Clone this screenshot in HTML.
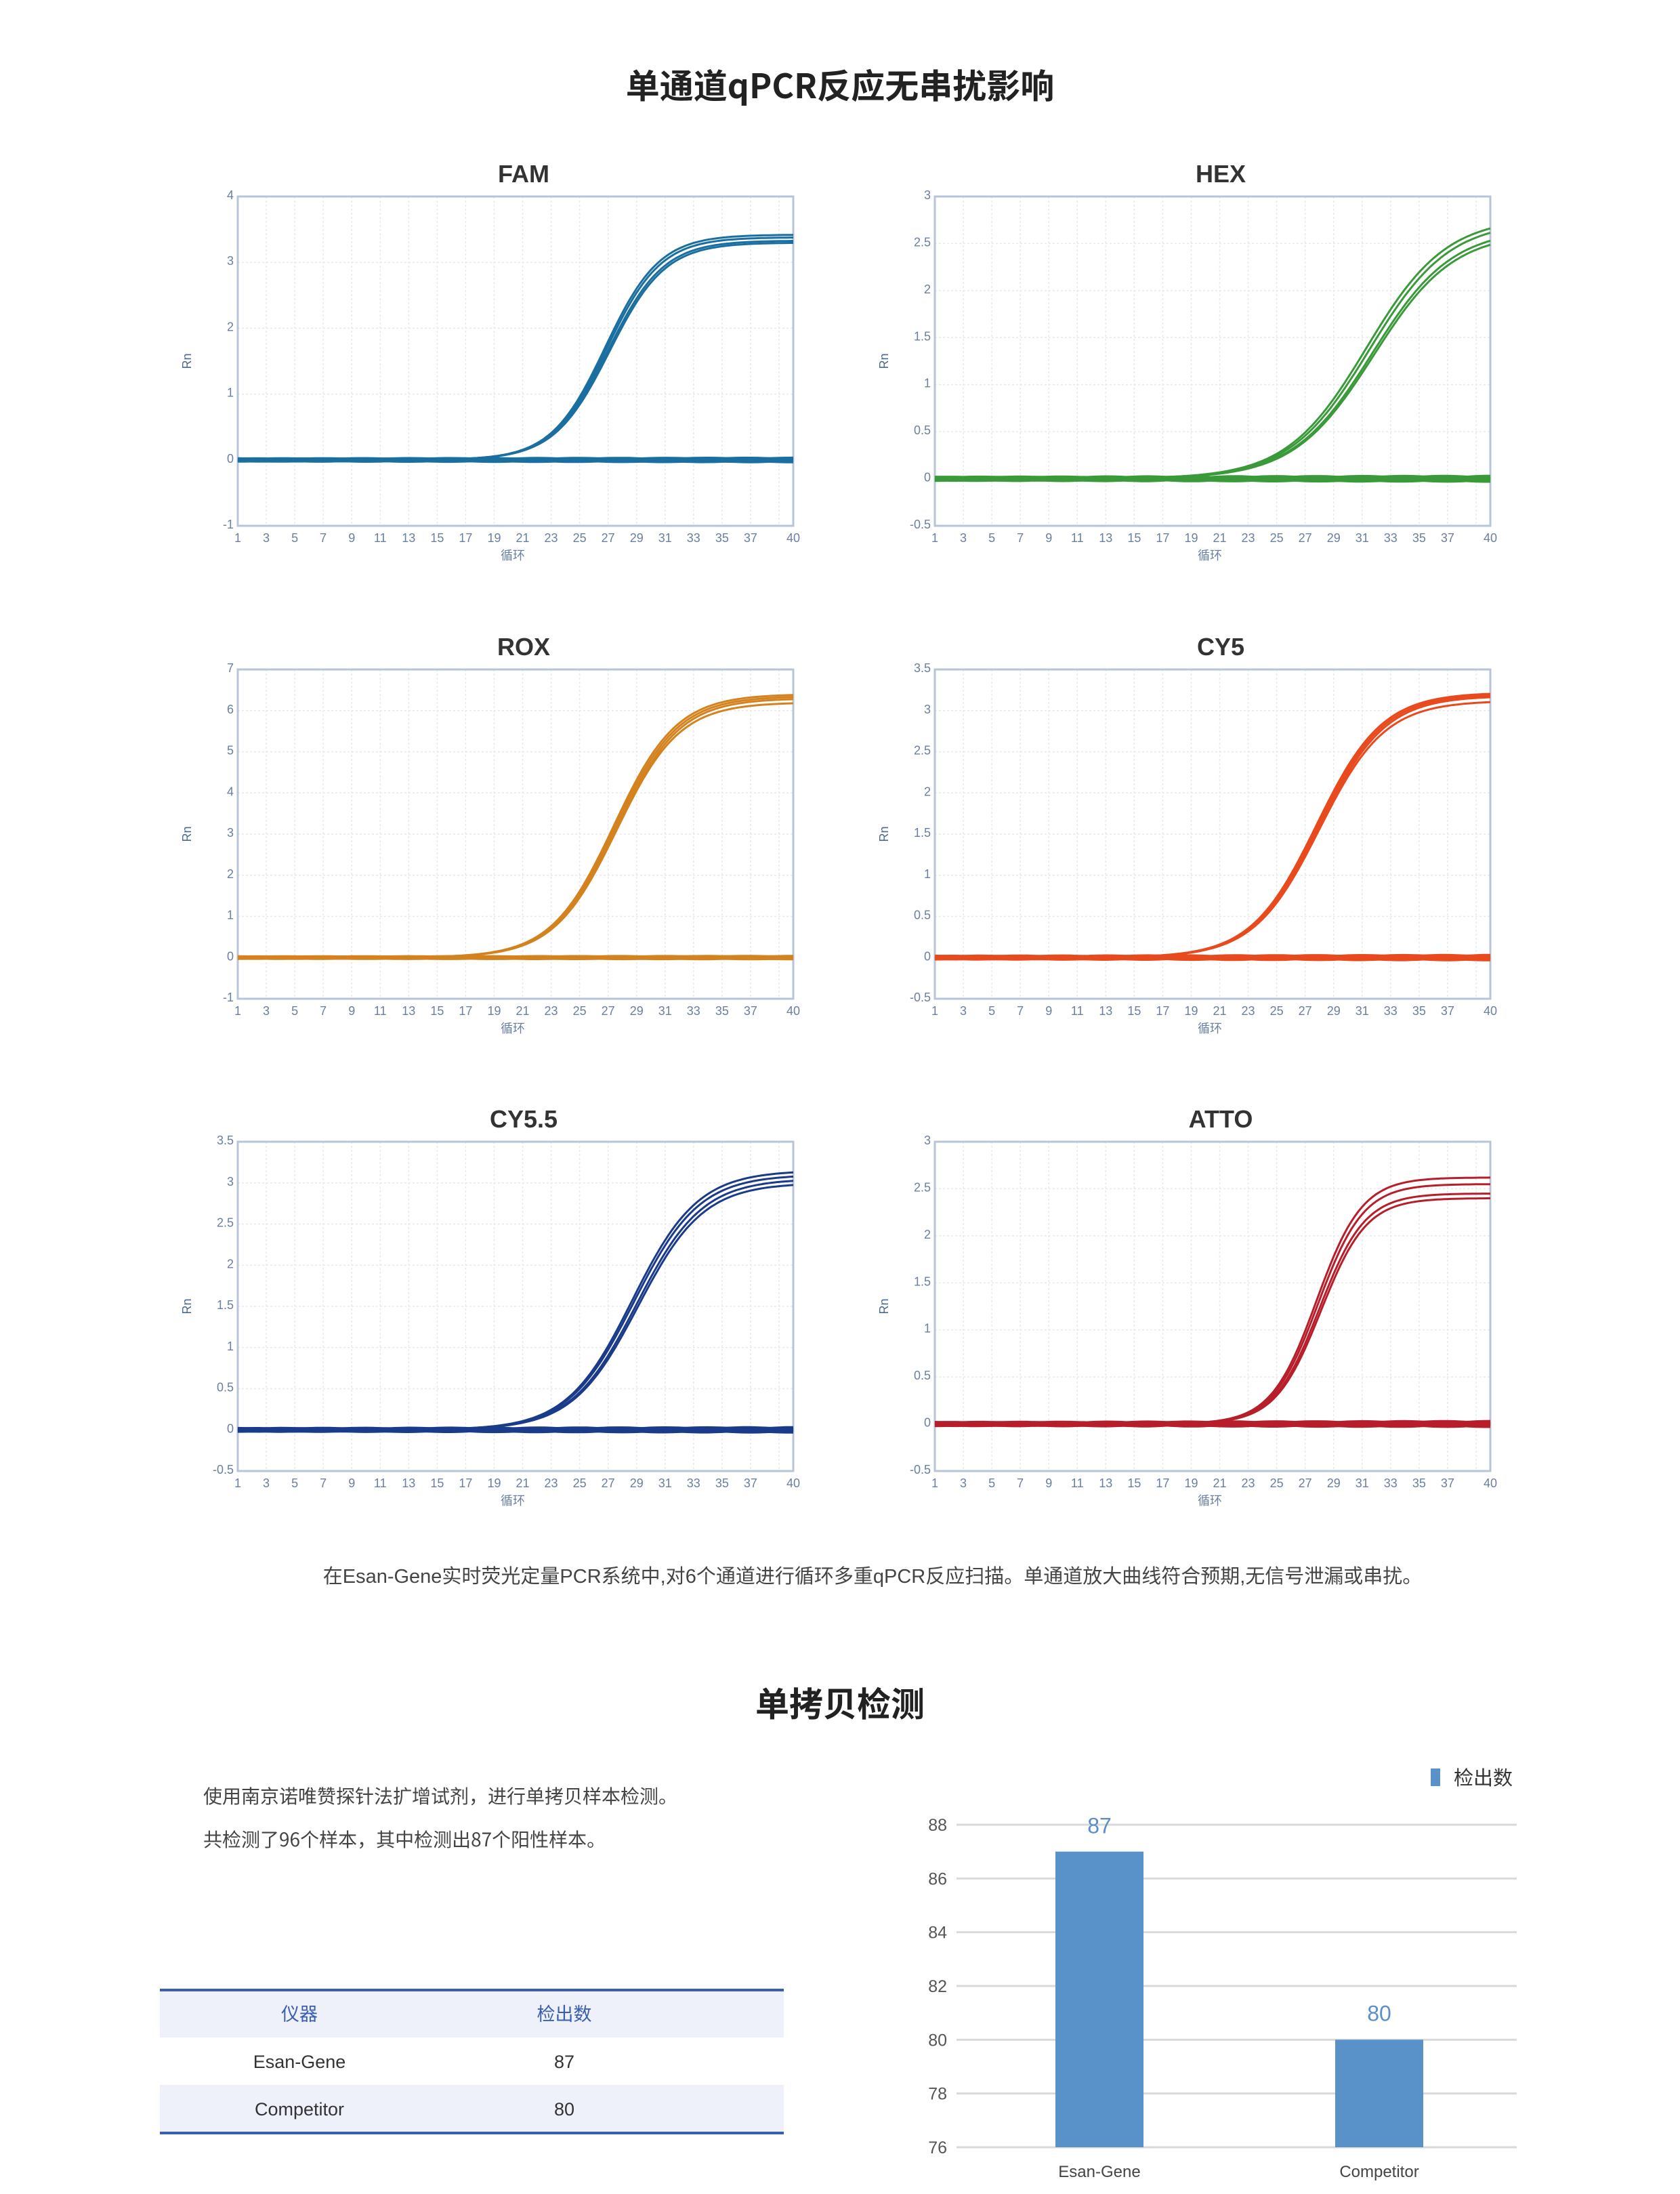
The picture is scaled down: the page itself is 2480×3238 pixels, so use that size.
<!DOCTYPE html>
<html><head><meta charset="utf-8">
<style>
html,body{margin:0;padding:0;background:#fff;}
body{width:2480px;height:3238px;position:relative;overflow:hidden;font-family:"Liberation Sans","Noto Sans CJK SC",sans-serif;}
.abs{position:absolute;}
</style></head>
<body>
<div class="abs" style="left:0;width:2480px;top:88px;text-align:center;font-size:50px;font-weight:bold;color:#222;font-family:'Noto Sans CJK SC',sans-serif;">单通道qPCR反应无串扰影响</div>
<svg id="charts" class="abs" style="left:0;top:0" width="2480" height="2300"></svg>
<div class="abs" style="left:0;width:2576px;top:2303px;text-align:center;font-size:29px;color:#444;font-family:'Liberation Sans','Noto Sans CJK SC',sans-serif;">在Esan-Gene实时荧光定量PCR系统中,对6个通道进行循环多重qPCR反应扫描。单通道放大曲线符合预期,无信号泄漏或串扰。</div>
<div class="abs" style="left:0;width:2480px;top:2476px;text-align:center;font-size:50px;font-weight:bold;color:#222;font-family:'Noto Sans CJK SC',sans-serif;">单拷贝检测</div>
<div class="abs" style="left:300px;top:2630px;font-size:28px;color:#444;font-family:'Noto Sans CJK SC',sans-serif;">使用南京诺唯赞探针法扩增试剂，进行单拷贝样本检测。</div>
<div class="abs" style="left:300px;top:2694px;font-size:28px;color:#444;font-family:'Noto Sans CJK SC',sans-serif;">共检测了96个样本，其中检测出87个阳性样本。</div>
<svg class="abs" style="left:0;top:2900px" width="2480" height="338">
<rect x="236" y="37" width="921" height="70" fill="#eef0fa"/>
<rect x="236" y="177" width="921" height="70" fill="#eef0fa"/>
<rect x="236" y="35" width="921" height="4" fill="#3a5fb0"/>
<rect x="236" y="246" width="921" height="4" fill="#3a5fb0"/>
<g font-family="Liberation Sans,Noto Sans CJK SC,sans-serif" font-size="27" text-anchor="middle">
<text x="442" y="82" fill="#3a5fb0">仪器</text><text x="833" y="82" fill="#3a5fb0">检出数</text>
<text x="442" y="152" fill="#333">Esan-Gene</text><text x="833" y="152" fill="#333">87</text>
<text x="442" y="222" fill="#333">Competitor</text><text x="833" y="222" fill="#333">80</text>
</g></svg>
<svg id="bar" class="abs" style="left:0;top:0" width="2480" height="3238"></svg>
<script>
var NS="http://www.w3.org/2000/svg";
function el(p,t,a,txt){var e=document.createElementNS(NS,t);for(var k in a)e.setAttribute(k,a[k]);if(txt!==undefined)e.textContent=txt;p.appendChild(e);return e;}
var svg=document.getElementById('charts');
var charts=[
{n:"FAM",x:351,y:290,ymin:-1,ymax:4,step:1,c:"#1a6fa0",curves:[[3.42,26.8,1.9],[3.38,26.9,1.9],[3.33,27.0,1.95],[3.30,27.1,1.95]]},
{n:"HEX",x:1380,y:290,ymin:-0.5,ymax:3,step:0.5,c:"#3a9a3a",curves:[[2.78,31.3,2.8],[2.74,31.5,2.8],[2.66,31.7,2.8],[2.62,31.8,2.8]]},
{n:"ROX",x:351,y:988,ymin:-1,ymax:7,step:1,c:"#d4821e",curves:[[6.4,27.4,2.2],[6.35,27.5,2.2],[6.3,27.6,2.2],[6.2,27.6,2.2]]},
{n:"CY5",x:1380,y:988,ymin:-0.5,ymax:3.5,step:0.5,c:"#e84a1e",curves:[[3.22,27.8,2.3],[3.2,27.9,2.3],[3.18,28.0,2.3],[3.12,28.0,2.3]]},
{n:"CY5.5",x:351,y:1685,ymin:-0.5,ymax:3.5,step:0.5,c:"#1a3a8a",curves:[[3.15,28.7,2.3],[3.1,28.8,2.3],[3.05,29.0,2.3],[3.0,29.1,2.3]]},
{n:"ATTO",x:1380,y:1685,ymin:-0.5,ymax:3,step:0.5,c:"#b81e2a",curves:[[2.62,27.8,1.6],[2.55,27.9,1.6],[2.45,28.0,1.6],[2.4,28.1,1.6]]}
];
var W=820,H=486;
charts.forEach(function(ch){
 var g=el(svg,'g',{});
 function X(c){return ch.x+(c-1)/39*W;}
 function Y(v){return ch.y+H-(v-ch.ymin)/(ch.ymax-ch.ymin)*H;}
 el(g,'text',{x:ch.x+W/2+12,y:ch.y-21,'font-size':36,'font-weight':'bold','text-anchor':'middle',fill:'#333'},ch.n);
 for(var c=1;c<=40;c++){if(c%2==1||c==40) el(g,'line',{x1:X(c),x2:X(c),y1:ch.y,y2:ch.y+H,stroke:'#e6e9ee','stroke-width':1.5,'stroke-dasharray':'3,3'});}
 for(var v=ch.ymin;v<=ch.ymax+1e-6;v+=ch.step){
  el(g,'line',{x1:ch.x,x2:ch.x+W,y1:Y(v),y2:Y(v),stroke:'#e6e9ee','stroke-width':1.5,'stroke-dasharray':'3,3'});
  el(g,'text',{x:ch.x-6,y:Y(v)+4,'font-size':18,'text-anchor':'end',fill:'#6a7fa0'},String(Math.round(v*10)/10));
 }
 el(g,'rect',{x:ch.x,y:ch.y,width:W,height:H,fill:'none',stroke:'#b8c4d8','stroke-width':3});
 for(var c=1;c<=40;c++){if(c%2==1&&c<39||c==40) el(g,'text',{x:X(c),y:ch.y+H+24,'font-size':18,'text-anchor':'middle',fill:'#6a7fa0'},String(c));}
 el(g,'text',{x:ch.x+W/2-4,y:ch.y+H+50,'font-size':18,'text-anchor':'middle',fill:'#6a7fa0'},'循环');
 el(g,'text',{x:0,y:0,'font-size':18,'text-anchor':'middle',fill:'#4a6a90',transform:'translate('+(ch.x-69)+','+(ch.y+H/2)+') rotate(-90)'},'Rn');
 for(var k=0;k<6;k++){var d='';for(var c=1;c<=40;c+=0.5){var v=0.015*Math.sin(c*0.7+k)+ (k%2?0.01:-0.01)*(c/40); d+=(c==1?'M':'L')+X(c).toFixed(1)+','+Y(v).toFixed(1);} el(g,'path',{d:d,fill:'none',stroke:ch.c,'stroke-width':5});}
 ch.curves.forEach(function(cv){var d='';for(var c=1;c<=40;c+=0.25){var v=cv[0]/(1+Math.exp(-(c-cv[1])/cv[2]));v-=cv[0]/(1+Math.exp(-(1-cv[1])/cv[2]));d+=(c==1?'M':'L')+X(c).toFixed(1)+','+Y(v).toFixed(1);}
  el(g,'path',{d:d,fill:'none',stroke:ch.c,'stroke-width':3});});
});
var b=document.getElementById('bar');
function BY(v){return 2693+(88-v)/12*476;}
for(var v=76;v<=88;v+=2){el(b,'line',{x1:1412,x2:2239,y1:BY(v),y2:BY(v),stroke:'#d9d9d9','stroke-width':3});
 el(b,'text',{x:1398,y:BY(v)+9,'font-size':25,'text-anchor':'end',fill:'#555'},String(v));}
el(b,'rect',{x:1558,y:BY(87),width:130,height:BY(76)-BY(87),fill:'#5892c8'});
el(b,'rect',{x:1971,y:BY(80),width:130,height:BY(76)-BY(80),fill:'#5892c8'});
el(b,'text',{x:1623,y:BY(87)-27,'font-size':32,'text-anchor':'middle',fill:'#5b8fc8'},'87');
el(b,'text',{x:2036,y:BY(80)-28,'font-size':32,'text-anchor':'middle',fill:'#5b8fc8'},'80');
el(b,'text',{x:1623,y:3213,'font-size':24,'text-anchor':'middle',fill:'#444'},'Esan-Gene');
el(b,'text',{x:2036,y:3213,'font-size':24,'text-anchor':'middle',fill:'#444'},'Competitor');
el(b,'rect',{x:2112,y:2610,width:14,height:26,fill:'#5892c8'});
el(b,'text',{x:2146,y:2634,'font-size':29,fill:'#333'},'检出数');
</script>
</body></html>
